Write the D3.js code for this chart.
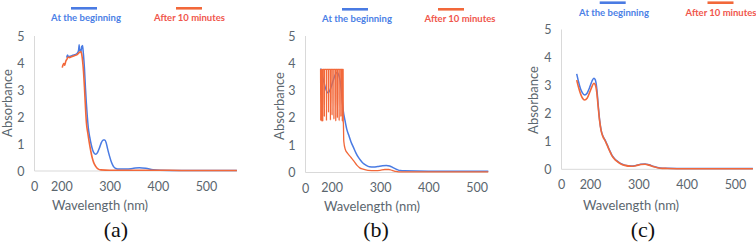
<!DOCTYPE html>
<html><head><meta charset="utf-8">
<script src="https://cdn.jsdelivr.net/npm/d3@7"></script>
<style>
html,body{margin:0;padding:0;background:#fff;}
svg{display:block;}
</style></head>
<body>
<svg id="chart" width="756" height="248"></svg>
<script>
// ---------- DATA ----------
const yTicks = [0, 1, 2, 3, 4, 5];
const xTicks = [200, 300, 400, 500];
const xStartLabel = "0";
const legendLabels = ["At the beginning", "After 10 minutes"];
const panelLabels = ["(a)", "(b)", "(c)"];

// Panel (a)
const aBlueX = [211,213,215,218,222,226,230,234,236,237,238,240,241,242,243,244,245,246,248,250,252,254,256,259,262,265,268,271,275,279,283,287,290,293,296,300,304,308,313,320,335,350,362,375,390,405,450,500,564];
const aBlueY = [4.2,4.3,4.22,4.25,4.27,4.3,4.32,4.38,4.5,4.68,4.45,4.5,4.42,4.62,4.55,4.65,4.5,4.3,3.8,3.1,2.5,2.0,1.6,1.25,0.98,0.78,0.66,0.62,0.68,0.85,1.05,1.15,1.15,1.05,0.82,0.55,0.32,0.17,0.09,0.07,0.07,0.1,0.12,0.1,0.05,0.03,0.02,0.02,0.02];
const aRedX = [202,205,207,209,212,214,217,220,224,228,232,235,238,240,242,244,246,248,250,252,255,258,261,264,267,271,276,282,300,350,400,450,500,564];
const aRedY = [3.83,3.98,3.92,4.05,4.15,4.22,4.2,4.22,4.25,4.28,4.3,4.35,4.4,4.42,4.35,4.1,3.7,3.1,2.4,1.8,1.4,1.05,0.75,0.5,0.32,0.18,0.08,0.04,0.03,0.03,0.03,0.02,0.02,0.02];

// Panel (b)
const bBlueX = [177,180,184,188,192,196,200,204,208,211,214,217,220,222,224,227,231,235,240,245,250,255,260,265,270,278,287,295,305,313,320,328,335,342,350,400,450,524];
const bBlueY = [3.81,3.6,3.3,3.05,2.92,3.0,3.2,3.42,3.6,3.66,3.6,3.4,3.0,2.6,2.25,1.95,1.6,1.38,1.12,0.92,0.72,0.56,0.44,0.34,0.28,0.21,0.2,0.22,0.25,0.26,0.24,0.17,0.11,0.07,0.06,0.05,0.05,0.05];
const bRedX = [177.0,177.3,177.6,178.4,178.7,179.0,179.8,180.1,180.4,181.2,181.5,181.8,
               184.6,184.8,185.0, 189.0,189.2,189.4, 193.2,193.4,193.6, 197.2,197.4,197.6,
               200.6,200.8,201.0, 204.4,204.6,204.8, 208.2,208.4,208.6, 211.6,211.8,212.0,
               215.2,215.4,215.6, 218.8,219.0,219.2, 221.8,222.0,222.2,
               223.6,223.9,224.2,225,228,233,240,246,252,258,265,275,290,300,310,318,325,333,345,400,450,524];
const bRedY = [3.78,1.9,3.78,3.78,1.88,3.78,3.78,1.92,3.78,3.78,1.87,3.78,
               3.78,2.05,3.78, 3.78,1.9,3.78, 3.78,2.2,3.78, 3.78,1.92,3.78,
               3.78,2.1,3.78, 3.78,1.95,3.78, 3.78,1.88,3.78, 3.78,2.0,3.78,
               3.78,1.9,3.78, 3.78,2.05,3.78, 3.78,1.88,3.78,
               3.78,1.85,1.8,1.15,0.85,0.7,0.55,0.42,0.27,0.17,0.12,0.08,0.07,0.08,0.11,0.11,0.08,0.04,0.02,0.02,0.02,0.02];

// Panel (c)
const cBlueX = [172.5,176,180,184,189,194,199,204,208,211,214,217,220,223,227,231,235,240,245,250,256,263,272,285,295,305,314,322,332,345,360,400,450,537];
const cBlueY = [3.41,3.15,2.9,2.74,2.66,2.72,2.92,3.15,3.26,3.2,2.9,2.3,1.75,1.4,1.18,1.05,0.9,0.7,0.52,0.4,0.3,0.21,0.15,0.12,0.14,0.18,0.19,0.16,0.1,0.05,0.04,0.03,0.03,0.03];
const cRedX = [172.5,176,180,184,189,194,199,204,208,211,214,217,220,223,227,231,235,240,245,250,256,263,272,285,295,305,314,322,332,345,360,400,450,537];
const cRedY = [3.19,2.95,2.72,2.56,2.48,2.54,2.74,2.96,3.08,3.02,2.75,2.22,1.72,1.38,1.16,1.03,0.88,0.68,0.5,0.38,0.28,0.2,0.14,0.11,0.13,0.17,0.18,0.15,0.09,0.04,0.03,0.02,0.02,0.02];

// ---------- LAYOUT ----------
const BLUE = "#4a7be3", RED = "#f2683a";
const BLUE_TXT = "#4c7fe6", RED_TXT = "#f0564c";
const GREY = "#5b666e", AXIS = "#d9d9d9";
const FONT = "Lato, 'Open Sans', sans-serif";

const panels = [
  {left:34.5, x200:61.3, x500:206, right:237, y0:171, y5:36, blue:[aBlueX,aBlueY], red:[aRedX,aRedY], redW:1.6,
   yTitle:[7,103], xTitle:[100,209.5], legY:8.3, legTxt:20.8, leg:[[84,86],[189,189.5]], sub:[116,237]},
  {left:305.5, x200:331.7, x500:476.7, right:488, y0:172.5, y5:36, blue:[bBlueX,bBlueY], red:[bRedX,bRedY], redW:1.3,
   yTitle:[279,106], xTitle:[372,211], legY:9.3, legTxt:22.3, leg:[[355,357],[451,460]], sub:[376,237]},
  {left:561.5, x200:590, x500:735, right:753, y0:169.3, y5:29.5, blue:[cBlueX,cBlueY], red:[cRedX,cRedY], redW:1.6,
   yTitle:[533,100], xTitle:[631,209.5], legY:2.7, legTxt:15.6, leg:[[612.7,614],[720.5,721]], sub:[643,237]}
];

const svg = d3.select("#chart");

panels.forEach((p, i) => {
  const x = d3.scaleLinear().domain([200, 500]).range([p.x200, p.x500]);
  const y = d3.scaleLinear().domain([0, 5]).range([p.y0, p.y5]);
  const g = svg.append("g");

  // axis lines
  g.append("line").attr("x1", p.left).attr("x2", p.left).attr("y1", y(5)).attr("y2", y(0))
    .attr("stroke", AXIS).attr("stroke-width", 1);
  g.append("line").attr("x1", p.left).attr("x2", p.right).attr("y1", y(0)).attr("y2", y(0))
    .attr("stroke", AXIS).attr("stroke-width", 1);

  // y ticks
  const yAxis = d3.axisLeft(y).tickValues(yTicks).tickSize(0).tickPadding(10).tickFormat(d3.format("d"));
  const ya = g.append("g").attr("transform", `translate(${p.left},0)`).call(yAxis);
  ya.select(".domain").remove();
  ya.selectAll("text").attr("fill", GREY).style("font-family", FONT).style("font-size", "12.5px");

  // x ticks
  const xAxis = d3.axisBottom(x).tickValues(xTicks).tickSize(0).tickPadding(11).tickFormat(d3.format("d"));
  const xa = g.append("g").attr("transform", `translate(0,${y(0)})`).call(xAxis);
  xa.select(".domain").remove();
  xa.selectAll("text").attr("fill", GREY).style("font-family", FONT).style("font-size", "12.5px");
  g.append("text").attr("x", p.left).attr("y", y(0) + 20).attr("text-anchor", "middle")
    .attr("fill", GREY).style("font-family", FONT).style("font-size", "12.5px").text(xStartLabel);

  // titles
  g.append("text").attr("transform", `translate(${p.yTitle[0]},${p.yTitle[1]}) rotate(-90)`)
    .attr("text-anchor", "middle").attr("dy", "0.35em").attr("fill", GREY)
    .style("font-family", FONT).style("font-size", "13px").text("Absorbance");
  g.append("text").attr("x", p.xTitle[0]).attr("y", p.xTitle[1]).attr("text-anchor", "middle")
    .attr("fill", GREY).style("font-family", FONT).style("font-size", "13px").text("Wavelength (nm)");

  // lines
  const line = d3.line().curve(d3.curveMonotoneX).x(d => x(d[0])).y(d => y(d[1]));
  const blueData = p.blue[0].map((v, k) => [v, p.blue[1][k]]);
  const redData = p.red[0].map((v, k) => [v, p.red[1][k]]);
  g.append("path").datum(blueData).attr("d", line).attr("fill", "none")
    .attr("stroke", BLUE).attr("stroke-width", 1.5).attr("stroke-linejoin", "round");
  g.append("path").datum(redData).attr("d", line).attr("fill", "none")
    .attr("stroke", RED).attr("stroke-width", p.redW).attr("stroke-linejoin", "round");

  // legend
  [[BLUE, BLUE_TXT], [RED, RED_TXT]].forEach((c, k) => {
    const lx = p.leg[k][0], tx = p.leg[k][1];
    g.append("line").attr("x1", lx - 13).attr("x2", lx + 13).attr("y1", p.legY).attr("y2", p.legY)
      .attr("stroke", c[0]).attr("stroke-width", 2.6);
    g.append("text").attr("x", tx).attr("y", p.legTxt).attr("text-anchor", "middle")
      .attr("fill", c[1]).style("font-family", FONT).style("font-weight", "bold")
      .style("font-size", "9.5px").text(legendLabels[k]);
  });

  // panel label
  g.append("text").attr("x", p.sub[0]).attr("y", p.sub[1]).attr("text-anchor", "middle")
    .attr("fill", "#111").style("font-family", "'Liberation Serif', 'Times New Roman', serif")
    .style("font-size", "22px").text(panelLabels[i]);
});
</script>
</body></html>
